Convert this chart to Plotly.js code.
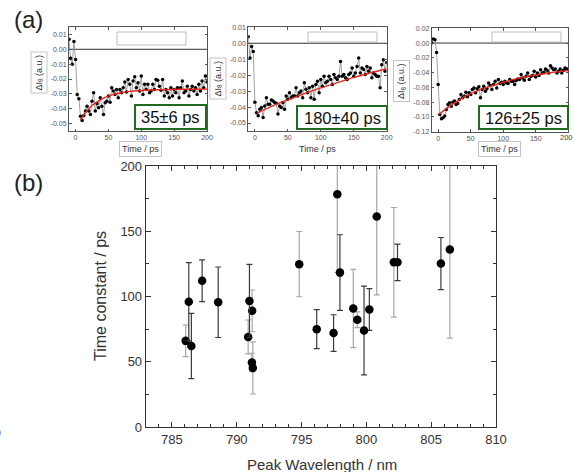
<!DOCTYPE html>
<html>
<head>
<meta charset="utf-8">
<script src="https://cdn.plot.ly/plotly-3.0.1.min.js"></script>
<style>html,body{margin:0;padding:0;background:#fff;}#chart{width:574px;height:472px;}</style>
</head>
<body>
<div id="chart"></div>
<script>
// ---------------- DATA ----------------
// Panel (b): peak wavelength vs time constant
const peakWavelength = [786.06, 786.3, 786.5, 787.33, 788.57, 790.88, 790.98, 791.19, 791.17, 791.24, 794.82, 796.17, 797.47, 797.76, 797.96, 798.99, 799.3, 799.82, 800.23, 800.8, 802.12, 802.4, 805.75, 806.44];
const timeConstant   = [66, 96, 62, 112, 95.6, 69, 96.6, 89, 49.5, 45.3, 124.8, 75, 72, 178.4, 118.3, 90.8, 82.2, 74, 90, 161.3, 126.2, 126.2, 125.2, 136.1];
const timeConstErr   = [12, 30, 25, 16, 27, 13, 28, 16, 7, 20, 25, 15, 14, 60, 29, 30, 6, 34, 16, 60, 42, 14, 20, 68];

// Panel (a): transient traces (shared time axis, ps)
const time = [-10, -7.5, -5, -2.5, 0, 2.5, 5, 7.5, 10, 12.5, 15, 17.5, 20, 22.5, 25, 27.5, 30, 32.5, 35, 37.5, 40, 42.5, 45, 47.5, 50, 52.5, 55, 57.5, 60, 62.5, 65, 67.5, 70, 72.5, 75, 77.5, 80, 82.5, 85, 87.5, 90, 92.5, 95, 97.5, 100, 102.5, 105, 107.5, 110, 112.5, 115, 117.5, 120, 122.5, 125, 127.5, 130, 132.5, 135, 137.5, 140, 142.5, 145, 147.5, 150, 152.5, 155, 157.5, 160, 162.5, 165, 167.5, 170, 172.5, 175, 177.5, 180, 182.5, 185, 187.5, 190, 192.5, 195, 197.5, 200];
const dI_35ps = [0.0068, -0.0061, -0.0101, 0.0052, -0.0068, -0.0304, -0.0333, -0.045, -0.0479, -0.0446, -0.0416, -0.0383, -0.0416, -0.0439, -0.0349, -0.0293, -0.0416, -0.0365, -0.0394, -0.0326, -0.0383, -0.0439, -0.036, -0.0349, -0.0315, -0.0356, -0.0259, -0.0281, -0.0304, -0.027, -0.0326, -0.027, -0.0293, -0.0259, -0.022, -0.0288, -0.0203, -0.0236, -0.0315, -0.0214, -0.0185, -0.0259, -0.0225, -0.0281, -0.018, -0.0304, -0.0236, -0.027, -0.0236, -0.0293, -0.0281, -0.0236, -0.027, -0.0203, -0.0209, -0.0248, -0.0275, -0.0203, -0.0315, -0.027, -0.0293, -0.0326, -0.0259, -0.0315, -0.027, -0.0293, -0.0259, -0.0326, -0.0259, -0.0214, -0.0293, -0.0281, -0.0248, -0.0315, -0.027, -0.0248, -0.0281, -0.0259, -0.0304, -0.0236, -0.0281, -0.0214, -0.0259, -0.018, -0.022];
const dI_180ps = [0.0041, -0.0093, -0.002, -0.0052, -0.037, -0.0435, -0.0455, -0.0413, -0.0403, -0.0465, -0.0393, -0.0341, -0.0382, -0.0382, -0.0355, -0.0362, -0.0372, -0.0376, -0.0444, -0.0393, -0.0403, -0.0372, -0.0413, -0.0331, -0.0351, -0.031, -0.0341, -0.0331, -0.0331, -0.0279, -0.0331, -0.031, -0.03, -0.0341, -0.0248, -0.0289, -0.031, -0.0279, -0.0341, -0.0269, -0.0351, -0.0258, -0.0238, -0.031, -0.0227, -0.0269, -0.0207, -0.0248, -0.0238, -0.0207, -0.0227, -0.0258, -0.0196, -0.0217, -0.0227, -0.0207, -0.0114, -0.0207, -0.0196, -0.0217, -0.0227, -0.0196, -0.0186, -0.0155, -0.0207, -0.0186, -0.0145, -0.0093, -0.0186, -0.0155, -0.0165, -0.0196, -0.0145, -0.0176, -0.0155, -0.0217, -0.0186, -0.0196, -0.0207, -0.0207, -0.0279, -0.0134, -0.0103, -0.0175, -0.012];
const dI_126ps = [0.0, 0.0054, 0.0045, -0.0126, -0.0562, -0.0966, -0.1025, -0.1011, -0.0989, -0.0899, -0.0831, -0.0809, -0.0854, -0.08, -0.0786, -0.0831, -0.0818, -0.0764, -0.0697, -0.0742, -0.0719, -0.0665, -0.0728, -0.0674, -0.0697, -0.0629, -0.0607, -0.0674, -0.062, -0.0593, -0.0742, -0.0629, -0.0584, -0.0652, -0.062, -0.0539, -0.0575, -0.0629, -0.0562, -0.0517, -0.0607, -0.0494, -0.0548, -0.053, -0.0562, -0.0517, -0.0539, -0.0548, -0.0494, -0.0517, -0.0517, -0.0562, -0.0508, -0.0485, -0.0494, -0.0427, -0.0472, -0.0503, -0.0449, -0.0404, -0.0494, -0.0449, -0.044, -0.0382, -0.0458, -0.0404, -0.044, -0.036, -0.0404, -0.0395, -0.0351, -0.0369, -0.0404, -0.0306, -0.0337, -0.036, -0.0351, -0.0404, -0.0382, -0.0351, -0.0404, -0.0369, -0.0337, -0.0351, -0.0355];

// Fit curves
const fitTime_35ps  = [7, 15, 25, 35, 45, 55, 65, 80, 100, 125, 150, 175, 200];
const fitVal_35ps   = [-0.0478, -0.0427, -0.0379, -0.0347, -0.0323, -0.0307, -0.0296, -0.0285, -0.0277, -0.0272, -0.0270, -0.0269, -0.0268];
const fitTime_180ps = [3.5, 25, 50, 75, 100, 125, 150, 175, 200];
const fitVal_180ps  = [-0.0438, -0.0396, -0.0355, -0.0316, -0.0280, -0.0247, -0.0214, -0.0186, -0.0160];
const fitTime_126ps = [1, 10, 25, 40, 60, 87.5, 110, 138, 170, 200];
const fitVal_126ps  = [-0.0966, -0.0905, -0.0810, -0.0727, -0.0648, -0.0562, -0.0505, -0.0449, -0.0405, -0.0373];

// Tick labels
const insetXTicks = [0, 50, 100, 150, 200];
const insetXTickText = ['0', '50', '100', '150', '200'];
const insetXTicksLast = [0, 50, 100, 150];
const insetXTickTextLast = ['0', '50', '100', '150'];
const insetYTicksA = [0.01, 0, -0.01, -0.02, -0.03, -0.04, -0.05];
const insetYTickTextA = ['0.01', '0.00', '-0.01', '-0.02', '-0.03', '-0.04', '-0.05'];
const insetYTicksC = [0.02, 0, -0.02, -0.04, -0.06, -0.08, -0.10, -0.12];
const insetYTickTextC = ['0.02', '0.00', '-0.02', '-0.04', '-0.06', '-0.08', '-0.10', '-0.12'];
const fitLabels = ['35\u00b16 ps', '180\u00b140 ps', '126\u00b125 ps'];

// ---------------- STYLE / LAYOUT ----------------
const W = 574, H = 472;
const fx = X => X / W;
const fy = Y => 1 - Y / H;
const FONT = 'Liberation Sans, Arial, sans-serif';
const lightErrIdx = [0, 5, 7, 8, 9, 10, 13, 15, 16, 19, 20, 23];

function pick(arr, idxs) { return idxs.map(i => arr[i]); }
const allIdx = peakWavelength.map((_, i) => i);
const lightIdx = allIdx.filter(i => lightErrIdx.includes(i));
const darkIdx = allIdx.filter(i => !lightErrIdx.includes(i));

function errTrace(idxs, color) {
  return {
    type: 'scatter', mode: 'markers', xaxis: 'x', yaxis: 'y',
    x: pick(peakWavelength, idxs), y: pick(timeConstant, idxs),
    error_y: {type: 'data', array: pick(timeConstErr, idxs), visible: true, color: color, thickness: 1.2, width: 3},
    marker: {color: '#000', size: 8.5}, cliponaxis: true
  };
}

const traces = [errTrace(lightIdx, '#a8a8a8'), errTrace(darkIdx, '#3a3a3a')];

const insets = [
  {x: 'x2', y: 'y2', d: dI_35ps, ft: fitTime_35ps, fv: fitVal_35ps},
  {x: 'x3', y: 'y3', d: dI_180ps, ft: fitTime_180ps, fv: fitVal_180ps},
  {x: 'x4', y: 'y4', d: dI_126ps, ft: fitTime_126ps, fv: fitVal_126ps}
];
insets.forEach(s => {
  traces.push({type: 'scatter', mode: 'lines+markers', xaxis: s.x, yaxis: s.y, x: time, y: s.d,
    line: {color: '#8a8a8a', width: 0.8}, marker: {color: '#000', size: 3.5}});
  traces.push({type: 'scatter', mode: 'lines', xaxis: s.x, yaxis: s.y, x: s.ft, y: s.fv,
    line: {color: '#e8261a', width: 1.4, shape: 'spline'}});
});

const mainAxisCommon = {
  showline: true, linecolor: '#333', linewidth: 1.3, mirror: 'ticks', ticks: 'inside', ticklen: 5,
  tickcolor: '#333', tickwidth: 1, showgrid: false, zeroline: false,
  tickfont: {family: FONT, size: 13, color: '#333'}
};
function insetAxis(domain, extra) {
  return Object.assign({
    domain: domain, showline: true, linecolor: '#555', linewidth: 1, mirror: 'ticks', ticks: 'inside',
    ticklen: 2.5, tickcolor: '#555', showgrid: false, zeroline: false, ticklabeloverflow: 'allow',
    tickfont: {family: FONT, size: 7, color: '#555'}, tickmode: 'array'
  }, extra);
}

const layout = {
  width: W, height: H, margin: {l: 0, r: 0, t: 0, b: 0}, paper_bgcolor: '#fff', plot_bgcolor: 'rgba(0,0,0,0)',
  showlegend: false, font: {family: FONT},
  xaxis: Object.assign({}, mainAxisCommon, {domain: [fx(146), fx(496)], range: [783, 810], tickmode: 'linear', tick0: 785, dtick: 5,
    minor: {dtick: 1, ticks: 'inside', ticklen: 3, tickcolor: '#333', showgrid: false}, anchor: 'y'}),
  yaxis: Object.assign({}, mainAxisCommon, {domain: [fy(427), fy(166)], range: [0, 200], tickmode: 'linear', tick0: 0, dtick: 50,
    minor: {dtick: 25, ticks: 'inside', ticklen: 3, tickcolor: '#333', showgrid: false}, anchor: 'x'}),
  xaxis2: insetAxis([fx(69), fx(207)], {range: [-10, 200], tickvals: insetXTicks, ticktext: insetXTickText, anchor: 'y2'}),
  yaxis2: insetAxis([fy(131), fy(27)], {range: [-0.055, 0.015], tickvals: insetYTicksA, ticktext: insetYTickTextA, anchor: 'x2'}),
  xaxis3: insetAxis([fx(248.3), fx(386.7)], {range: [-10, 200], tickvals: insetXTicks, ticktext: insetXTickText, anchor: 'y3'}),
  yaxis3: insetAxis([fy(131), fy(27.3)], {range: [-0.055, 0.01], tickvals: insetYTicksA, ticktext: insetYTickTextA, anchor: 'x3'}),
  xaxis4: insetAxis([fx(431.7), fx(568.3)], {range: [-10, 200], tickvals: insetXTicksLast, ticktext: insetXTickTextLast, anchor: 'y4'}),
  yaxis4: insetAxis([fy(131.7), fy(28.3)], {range: [-0.12, 0.02], tickvals: insetYTicksC, ticktext: insetYTickTextC, anchor: 'x4'}),
  shapes: [],
  annotations: []
};

// zero lines in insets
['2', '3', '4'].forEach(n => {
  layout.shapes.push({type: 'line', xref: 'x' + n + ' domain', yref: 'y' + n, x0: 0, x1: 1, y0: 0, y1: 0,
    line: {color: '#333', width: 1}, layer: 'below'});
});
// empty legend frames
[[117, 186, 32, 45], [308, 377, 32, 42], [492, 561, 32, 42]].forEach(b => {
  layout.shapes.push({type: 'rect', xref: 'paper', yref: 'paper', x0: fx(b[0]), x1: fx(b[1]), y0: fy(b[3]), y1: fy(b[2]),
    line: {color: '#bdbdbd', width: 1}, fillcolor: 'rgba(0,0,0,0)', layer: 'above'});
});
// green result boxes
const greenBoxes = [[135, 206, 105, 129], [297, 387, 106, 129], [479, 568, 106, 129]];
greenBoxes.forEach((b, i) => {
  layout.shapes.push({type: 'rect', xref: 'paper', yref: 'paper', x0: fx(b[0]), x1: fx(b[1]), y0: fy(b[3]), y1: fy(b[2]),
    line: {color: '#1f6b1f', width: 2}, fillcolor: '#fff', layer: 'above'});
  layout.annotations.push({xref: 'paper', yref: 'paper', x: fx((b[0] + b[1]) / 2), y: fy((b[2] + b[3]) / 2 + 0.5),
    text: fitLabels[i], showarrow: false, font: {family: FONT, size: 16.5, color: '#111'}, xanchor: 'center', yanchor: 'middle'});
});

function ann(X, Y, text, size, opts) {
  layout.annotations.push(Object.assign({xref: 'paper', yref: 'paper', x: fx(X), y: fy(Y), text: text, showarrow: false,
    font: {family: FONT, size: size, color: '#222'}, xanchor: 'center', yanchor: 'middle'}, opts || {}));
}
// "200" label of last inset, kept inside the page edge
ann(566, 137.5, insetXTickText[4], 7.5, {font: {family: FONT, size: 7.5, color: '#444'}});
// panel labels
ann(28, 19, '(a)', 24);
ann(28, 183, '(b)', 24);
// inset axis titles
const boxed = {bordercolor: '#c4c4c4', borderwidth: 1, borderpad: 2, bgcolor: '#fff'};
ann(140, 148.5, 'Time / ps', 9, Object.assign({font: {family: FONT, size: 9, color: '#333'}}, boxed));
ann(317, 149, 'Time / ps', 9, {font: {family: FONT, size: 9, color: '#333'}});
ann(500, 149, 'Time / ps', 9, Object.assign({font: {family: FONT, size: 9, color: '#333'}}, boxed));
const ylab = '\u0394I<sub>8</sub> (a.u.)';
ann(39, 72.5, ylab, 9, Object.assign({textangle: -90, font: {family: FONT, size: 9, color: '#333'}}, boxed));
ann(217.5, 79, ylab, 9, Object.assign({textangle: -90, font: {family: FONT, size: 9, color: '#333'}}, boxed));
ann(401, 81, ylab, 9, Object.assign({textangle: -90, font: {family: FONT, size: 9, color: '#333'}}, boxed));
// main axis titles
ann(100, 296, 'Time constant / ps', 16, {textangle: -90, font: {family: FONT, size: 16, color: '#333'}});
ann(322, 464, 'Peak Wavelength / nm', 15, {font: {family: FONT, size: 15, color: '#333'}});
// clipped stray label at the left edge
ann(3, 433, '0', 9, {xanchor: 'right', font: {family: FONT, size: 9, color: '#666'}});

Plotly.newPlot('chart', traces, layout, {displayModeBar: false, staticPlot: true});
</script>
</body>
</html>
